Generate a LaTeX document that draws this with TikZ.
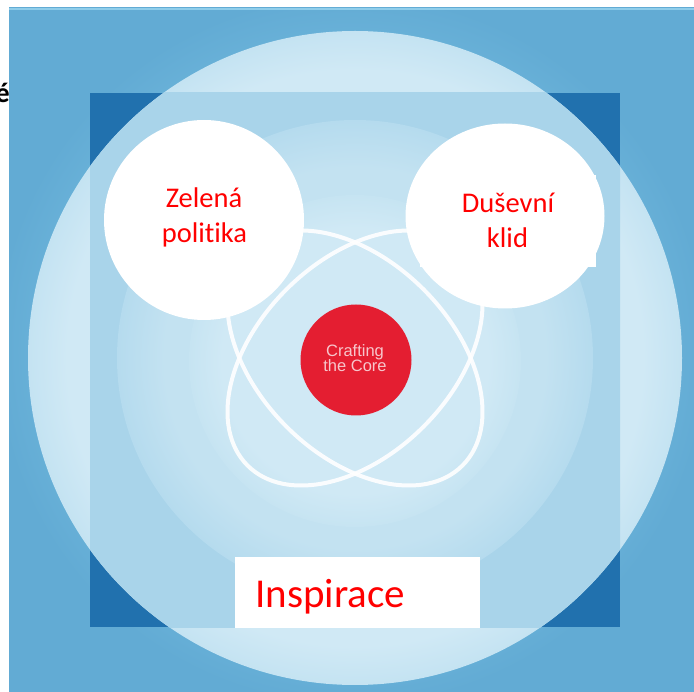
\documentclass[tikz,border=0pt]{standalone}
\usepackage{fontspec}
\usetikzlibrary{shapes.geometric}
\newfontfamily\calibri[Ligatures={NoCommon}]{Carlito}
\newfontfamily\arialf{Liberation Sans}
\definecolor{bgin}{HTML}{75BCDF}
\definecolor{bgout}{HTML}{62ABD4}
\definecolor{sqdark}{HTML}{2171AE}
\definecolor{cain}{HTML}{D0E9F5}
\definecolor{caout}{HTML}{C4E3F2}
\definecolor{ringin}{HTML}{A9D4EA}
\definecolor{cbin}{HTML}{C3E2F1}
\definecolor{cbout}{HTML}{B5DBEE}
\definecolor{ccin}{HTML}{D0E9F5}
\definecolor{ccout}{HTML}{C6E4F2}
\definecolor{corered}{HTML}{E41E31}
\definecolor{coretext}{HTML}{F7C6CC}
\definecolor{topline}{HTML}{8FCDEA}
\pgfdeclareradialshading{bgshade}{\pgfpoint{0bp}{0bp}}{color(0bp)=(bgin); color(17bp)=(bgin); color(26bp)=(bgout); color(50bp)=(bgout)}
\pgfdeclareradialshading{ringone}{\pgfpoint{0bp}{0bp}}{color(0bp)=(cain); color(22bp)=(cain); color(25bp)=(caout); color(50bp)=(caout)}
\pgfdeclareradialshading{ringtwo}{\pgfpoint{0bp}{0bp}}{color(0bp)=(cbin); color(20bp)=(cbin); color(25bp)=(cbout); color(50bp)=(cbout)}
\pgfdeclareradialshading{ringthree}{\pgfpoint{0bp}{0bp}}{color(0bp)=(ccin); color(20bp)=(ccin); color(25bp)=(ccout); color(50bp)=(ccout)}
\begin{document}
\begin{tikzpicture}[x=1pt,y=-1pt,
  lbl/.style={text=red, font=\calibri\fontsize{28.5}{34}\selectfont, inner sep=0pt, anchor=base},
  corelbl/.style={text=coretext, font=\arialf\fontsize{16.5}{15}\selectfont, inner sep=0pt, anchor=base},
  orbit/.style={draw=white, line width=4pt, draw opacity=0.9},
  whitedisc/.style={fill=white, inner sep=0pt}]
\useasboundingbox (0,0) rectangle (694,692);
\fill[white] (0,0) rectangle (694,692);
\node[font=\calibri\bfseries\fontsize{28}{30}\selectfont, inner sep=0pt, anchor=base east] (acc) at (10,103) {é};
% background picture
\shade[shading=bgshade] (9,8) rectangle (694,692);
\fill[topline] (9,8) rectangle (694,10);
\fill[sqdark] (90,93) rectangle (620,627);
\coordinate (c) at (355,358);
\shade[shading=ringone] (c) circle[radius=327];
\begin{scope}
  \clip (90,93) rectangle (620,627);
  \fill[ringin] (c) circle[radius=327];
\end{scope}
\shade[shading=ringtwo] (c) circle[radius=238];
\shade[shading=ringthree] (355,361) circle[radius=166];
% orbits
\draw[orbit, rotate around={45:(c)}] (c) ellipse[x radius=152, y radius=97];
\draw[orbit, rotate around={-45:(c)}] (c) ellipse[x radius=152, y radius=97];
% core
\node[circle, fill=corered, minimum size=111pt, inner sep=0pt] (core) at (356,360) {};
\node[corelbl] (core1) at (355,357) {Crafting};
\node[corelbl] (core2) at (355,372) {the Core};
% Zelena politika
\node[circle, whitedisc, minimum size=200pt] (zel) at (204,220) {};
\node[lbl] (zel1) at (204,208) {Zelená};
\node[lbl] (zel2) at (204.5,243) {politika};
% Dusevni klid
\node[ellipse, whitedisc, minimum width=199pt, minimum height=185pt] (dus) at (505,216) {};
\node[whitedisc, minimum width=176pt, minimum height=92pt, anchor=north west] (dusbox) at (420,175) {};
\node[lbl] (dus1) at (508,213) {Duševní};
\node[lbl] (dus2) at (507.5,248) {klid};
% Inspirace
\node[whitedisc, minimum width=245pt, minimum height=71pt, anchor=north west] (insp) at (235,557) {};
\node[text=red, font=\calibri\fontsize{41}{48}\selectfont, inner sep=0pt, anchor=base west] (insptext) at (255,607) {Inspirace};
\end{tikzpicture}
\end{document}
